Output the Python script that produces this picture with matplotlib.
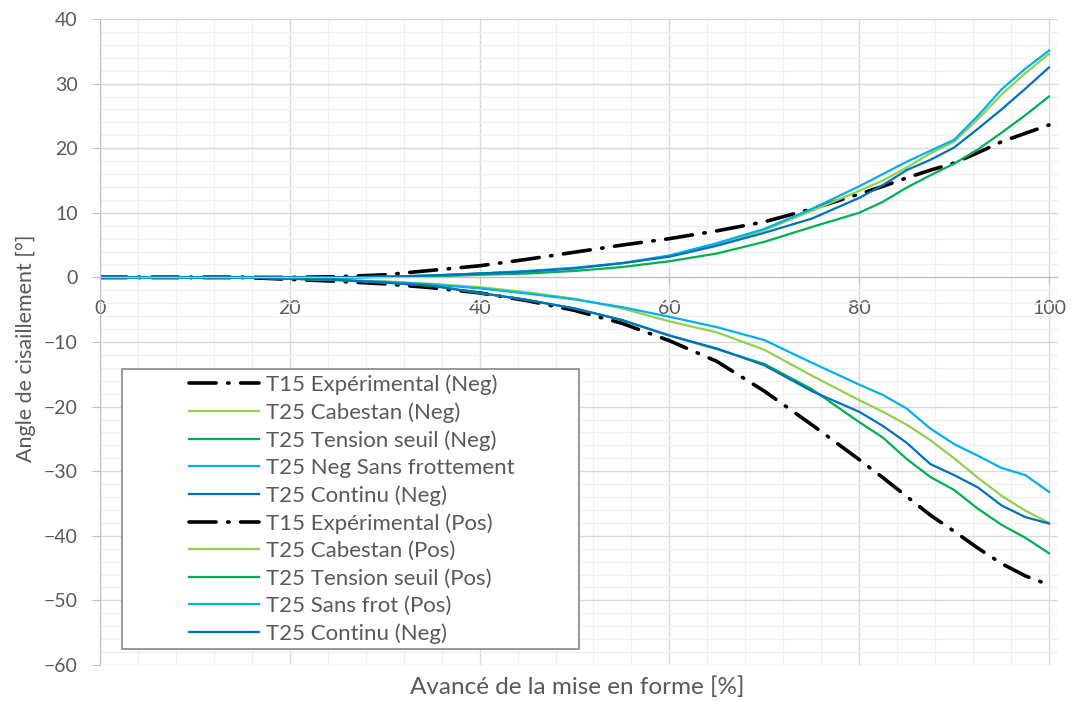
import matplotlib
matplotlib.use("Agg")
import matplotlib.pyplot as plt
from matplotlib.patches import Rectangle
from matplotlib.ticker import MultipleLocator

plt.rcParams['font.family'] = ['Lato', 'DejaVu Sans']

# Avancement [%]
x = [0, 5, 10, 15, 20, 25, 30, 35, 40, 45, 50, 55, 60, 65, 70, 75,
     80, 82.5, 85, 87.5, 90, 92.5, 95, 97.5, 100]

# Negative shear side
exp_neg = [0, 0, 0, 0, -0.3, -0.6, -1.0, -1.6, -2.4, -3.6, -5.1, -7.1, -9.8, -13.0, -17.6, -22.8,
           -28.2, -31.0, -33.9, -36.8, -39.3, -41.9, -44.3, -46.2, -47.6]
cab_neg = [0, 0, 0, 0, -0.2, -0.4, -0.6, -1.0, -1.5, -2.3, -3.3, -4.8, -6.8, -8.5, -11.2, -15.2,
           -19.0, -20.8, -22.8, -25.2, -28.0, -31.0, -33.8, -36.1, -38.0]
seuil_neg = [0, 0, 0, 0, -0.2, -0.4, -0.8, -1.3, -2.4, -3.5, -4.8, -6.6, -9.0, -11.1, -13.4, -17.3,
             -22.4, -24.8, -28.1, -30.9, -32.9, -35.8, -38.3, -40.3, -42.7]
sansfrot_neg = [0, 0, 0, 0, -0.2, -0.4, -0.7, -1.1, -1.7, -2.5, -3.4, -4.6, -6.1, -7.7, -9.7, -13.2,
                -16.6, -18.2, -20.3, -23.4, -25.8, -27.6, -29.5, -30.6, -33.2]
continu_neg = [0, 0, 0, 0, -0.2, -0.4, -0.8, -1.3, -2.4, -3.5, -4.8, -6.6, -9.0, -11.0, -13.6, -17.6,
               -20.8, -23.0, -25.6, -28.9, -30.6, -32.5, -35.3, -37.1, -38.1]

# Positive shear side
exp_pos = [0, 0, 0, 0, 0, 0.1, 0.4, 1.1, 1.8, 2.8, 3.9, 5.0, 6.0, 7.2, 8.6, 10.6,
           12.9, 14.1, 15.4, 16.6, 17.7, 19.3, 21.0, 22.3, 23.6]
cab_pos = [0, 0, 0, 0, 0, 0, 0.1, 0.3, 0.6, 0.9, 1.4, 2.2, 3.3, 5.1, 7.3, 10.3,
           13.4, 15.0, 17.0, 19.2, 21.0, 24.5, 28.3, 31.6, 34.6]
seuil_pos = [0, 0, 0, 0, 0, 0, 0.05, 0.15, 0.4, 0.6, 1.0, 1.6, 2.5, 3.7, 5.5, 7.8,
             10.0, 11.7, 13.9, 15.8, 17.6, 19.8, 22.4, 25.1, 28.0]
sansfrot_pos = [0, 0, 0, 0, 0, 0, 0.1, 0.3, 0.6, 1.0, 1.5, 2.2, 3.4, 5.3, 7.5, 10.6,
                14.1, 16.0, 17.9, 19.6, 21.3, 25.0, 29.1, 32.3, 35.1]
continu_pos = [0, 0, 0, 0, 0, 0, 0.1, 0.3, 0.6, 0.9, 1.4, 2.2, 3.2, 4.9, 6.9, 9.1,
               12.3, 14.3, 16.6, 18.2, 20.1, 23.0, 26.0, 29.2, 32.5]

labels = ['T15 Expérimental (Neg)', 'T25 Cabestan (Neg)', 'T25 Tension seuil (Neg)',
          'T25 Neg Sans frottement', 'T25 Continu (Neg)',
          'T15 Expérimental (Pos)', 'T25 Cabestan (Pos)', 'T25 Tension seuil (Pos)',
          'T25 Sans frot (Pos)', 'T25 Continu (Neg)']
series = [exp_neg, cab_neg, seuil_neg, sansfrot_neg, continu_neg,
          exp_pos, cab_pos, seuil_pos, sansfrot_pos, continu_pos]

BLACK = '#000000'
LGREEN = '#92D050'
GREEN = '#00B050'
LBLUE = '#00B0F0'
DBLUE = '#0070C0'
colors = [BLACK, LGREEN, GREEN, LBLUE, DBLUE] * 2
TXT = '#595959'

fig = plt.figure(figsize=(10.72, 7.02), dpi=100)
ax = fig.add_axes([100 / 1072, 1 - 665 / 702, 958 / 1072, 646 / 702])

handles = []
for ys, lab, c in zip(series, labels, colors):
    if c == BLACK:
        ln, = ax.plot(x, ys, color=c, lw=2.6, label=lab, dash_capstyle='round',
                      solid_capstyle='round')
        ln.set_dashes((7.5, 3.2, 0.4, 3.2))
    else:
        ln, = ax.plot(x, ys, color=c, lw=1.6, label=lab)
    handles.append(ln)

ax.set_xlim(0, 100.95)
ax.set_ylim(-60, 40)
ax.xaxis.set_major_locator(MultipleLocator(20))
ax.xaxis.set_minor_locator(MultipleLocator(4))
ax.yaxis.set_major_locator(MultipleLocator(10))
ax.yaxis.set_minor_locator(MultipleLocator(2))
ax.set_xticks([0, 20, 40, 60, 80, 100])

ax.grid(which='major', color='#d9d9d9', lw=1.0, zorder=0)
ax.grid(which='minor', color='#f0f0f0', lw=1.0, zorder=0)
ax.set_axisbelow(True)

for s in ['top', 'right']:
    ax.spines[s].set_visible(False)
ax.spines['bottom'].set_position(('data', 0))
ax.spines['bottom'].set_color('#bfbfbf')
ax.spines['left'].set_color('#bfbfbf')
ax.tick_params(which='minor', length=0)
ax.tick_params(axis='y', which='major', length=6, color='#bfbfbf', pad=10,
               labelsize=14, labelcolor=TXT)
ax.tick_params(axis='x', which='major', length=5, color='#bfbfbf', pad=11,
               labelsize=14, labelcolor=TXT)

ax.set_xlabel('Avancé de la mise en forme [%]', fontsize=17.5, color=TXT)
ax.xaxis.set_label_coords((577 - 100) / 958, -11 / 646)
ax.set_ylabel('Angle de cisaillement [°]', fontsize=15.5, color=TXT)
ax.yaxis.set_label_coords(-(100 - 36) / 958, (665 - 348) / 646)

# legend box (wider than its content, like the original)
box = Rectangle((122 / 1072, 1 - 649 / 702), 457 / 1072, 280 / 702,
                transform=fig.transFigure, facecolor='white', edgecolor='#888888',
                lw=1.2, zorder=5, clip_on=False)
ax.add_artist(box)
leg = ax.legend(handles=handles, loc='center', bbox_to_anchor=(352 / 1072, 1 - 509 / 702),
                bbox_transform=fig.transFigure, frameon=False, fontsize=16,
                handlelength=3.15, handletextpad=0.3, labelspacing=0.33,
                labelcolor=TXT)
leg.set_zorder(6)

fig.savefig('out.png', dpi=100)
